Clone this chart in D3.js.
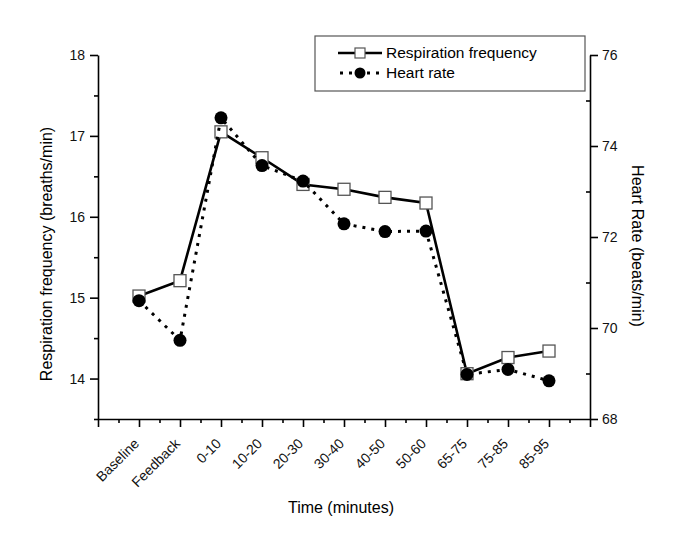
<!DOCTYPE html>
<meta charset="utf-8">
<style>
    body { margin: 0; background: #fff; }
    svg { font-family: Arial, "Liberation Sans", sans-serif; }
    .axis path, .axis line { stroke: #000; stroke-width: 1.6px; }
    .axis text { font-size: 14px; fill: #111; }
    .xaxis text { font-size: 14px; }
    .resp { fill: none; stroke: #000; stroke-width: 2.6px; }
    .hr { fill: none; stroke: #000; stroke-width: 3px; stroke-dasharray: 3 6; }
</style>
<body>
<script src="https://d3js.org/d3.v7.min.js"></script>
<script>
var categories = ['Baseline','Feedback','0-10','10-20','20-30','30-40','40-50','50-60','65-75','75-85','85-95'];
var respiration = [15.02, 15.21, 17.05, 16.73, 16.40, 16.34, 16.24, 16.17, 14.06, 14.26, 14.34];
var heartRate = [70.6, 69.73, 74.62, 73.57, 73.23, 72.29, 72.12, 72.13, 68.98, 69.09, 68.84];
var leftTicks = [14, 15, 16, 17, 18];
var rightTicks = [68, 70, 72, 74, 76];

var svg = d3.select("body").append("svg").attr("width", 685).attr("height", 557);

var x = d3.scaleLinear().domain([0, 12]).range([98, 590]);
var yL = d3.scaleLinear().domain([13.5, 18]).range([419, 55]);
var yR = d3.scaleLinear().domain([68, 76]).range([419, 55]);

// minor ticks first
svg.append("g").attr("class", "axis").attr("transform", "translate(0,419)")
    .call(d3.axisBottom(x).tickValues(d3.range(0.5, 12, 1)).tickSize(4).tickFormat(""))
    .select(".domain").remove();
svg.append("g").attr("class", "axis").attr("transform", "translate(98,0)")
    .call(d3.axisLeft(yL).tickValues([13.5, 14.5, 15.5, 16.5, 17.5]).tickSize(4).tickFormat(""))
    .select(".domain").remove();
svg.append("g").attr("class", "axis").attr("transform", "translate(590,0)")
    .call(d3.axisRight(yR).tickValues([69, 71, 73, 75]).tickSize(-4).tickFormat(""))
    .select(".domain").remove();

// major axes
var xAxis = svg.append("g").attr("class", "axis xaxis").attr("transform", "translate(0,419)")
    .call(d3.axisBottom(x).tickValues(d3.range(0, 13)).tickSize(8).tickSizeOuter(0)
        .tickFormat(d => (d >= 1 && d <= categories.length) ? categories[d - 1] : ""));
xAxis.selectAll("text")
    .attr("x", 0).attr("y", 0).attr("dy", "0.35em")
    .attr("text-anchor", "end")
    .attr("transform", "translate(-3,22) rotate(-45)");

svg.append("g").attr("class", "axis").attr("transform", "translate(98,0)")
    .call(d3.axisLeft(yL).tickValues(leftTicks).tickSize(8).tickSizeOuter(0).tickPadding(5)
        .tickFormat(d3.format("d")));

svg.append("g").attr("class", "axis").attr("transform", "translate(590,0)")
    .call(d3.axisRight(yR).tickValues(rightTicks).tickSize(8).tickSizeOuter(0).tickPadding(4)
        .tickFormat(d3.format("d")));

// axis titles
svg.append("text").attr("transform", "translate(52,254) rotate(-90)")
    .attr("text-anchor", "middle").style("font-size", "16px")
    .text("Respiration frequency (breaths/min)");
svg.append("text").attr("transform", "translate(632,246) rotate(90)")
    .attr("text-anchor", "middle").style("font-size", "16px")
    .text("Heart Rate (beats/min)");
svg.append("text").attr("x", 341).attr("y", 513)
    .attr("text-anchor", "middle").style("font-size", "16px")
    .text("Time (minutes)");

// series
var idx = d3.range(categories.length);
var lineL = d3.line().x(i => x(i + 1)).y(i => yL(respiration[i]));
var lineR = d3.line().x(i => x(i + 1)).y(i => yR(heartRate[i]));

svg.append("path").attr("class", "resp").attr("d", lineL(idx));
svg.selectAll(".sq").data(idx).enter().append("rect").attr("class", "sq")
    .attr("x", i => x(i + 1) - 6).attr("y", i => yL(respiration[i]) - 6)
    .attr("width", 12).attr("height", 12)
    .attr("fill", "#fff").attr("stroke", "#555").attr("stroke-width", 1.3);

svg.append("path").attr("class", "hr").attr("d", lineR(idx));
svg.selectAll(".dot").data(idx).enter().append("circle").attr("class", "dot")
    .attr("cx", i => x(i + 1)).attr("cy", i => yR(heartRate[i]))
    .attr("r", 6.5).attr("fill", "#000");

// legend
var lg = svg.append("g");
lg.append("rect").attr("x", 315).attr("y", 36).attr("width", 270).attr("height", 55)
    .attr("fill", "#fff").attr("stroke", "#555").attr("stroke-width", 1.2);
lg.append("line").attr("x1", 338).attr("x2", 382).attr("y1", 53).attr("y2", 53)
    .attr("stroke", "#000").attr("stroke-width", 2.6);
lg.append("rect").attr("x", 355).attr("y", 48).attr("width", 10).attr("height", 10)
    .attr("fill", "#fff").attr("stroke", "#555").attr("stroke-width", 1.2);
lg.append("line").attr("x1", 340).attr("x2", 382).attr("y1", 73).attr("y2", 73)
    .attr("class", "hr");
lg.append("circle").attr("cx", 360).attr("cy", 73).attr("r", 5.5).attr("fill", "#000");
lg.append("text").attr("x", 386).attr("y", 53).attr("dy", "0.35em").style("font-size", "15.5px")
    .text("Respiration frequency");
lg.append("text").attr("x", 386).attr("y", 73).attr("dy", "0.35em").style("font-size", "15.5px")
    .text("Heart rate");
</script>
</body>
